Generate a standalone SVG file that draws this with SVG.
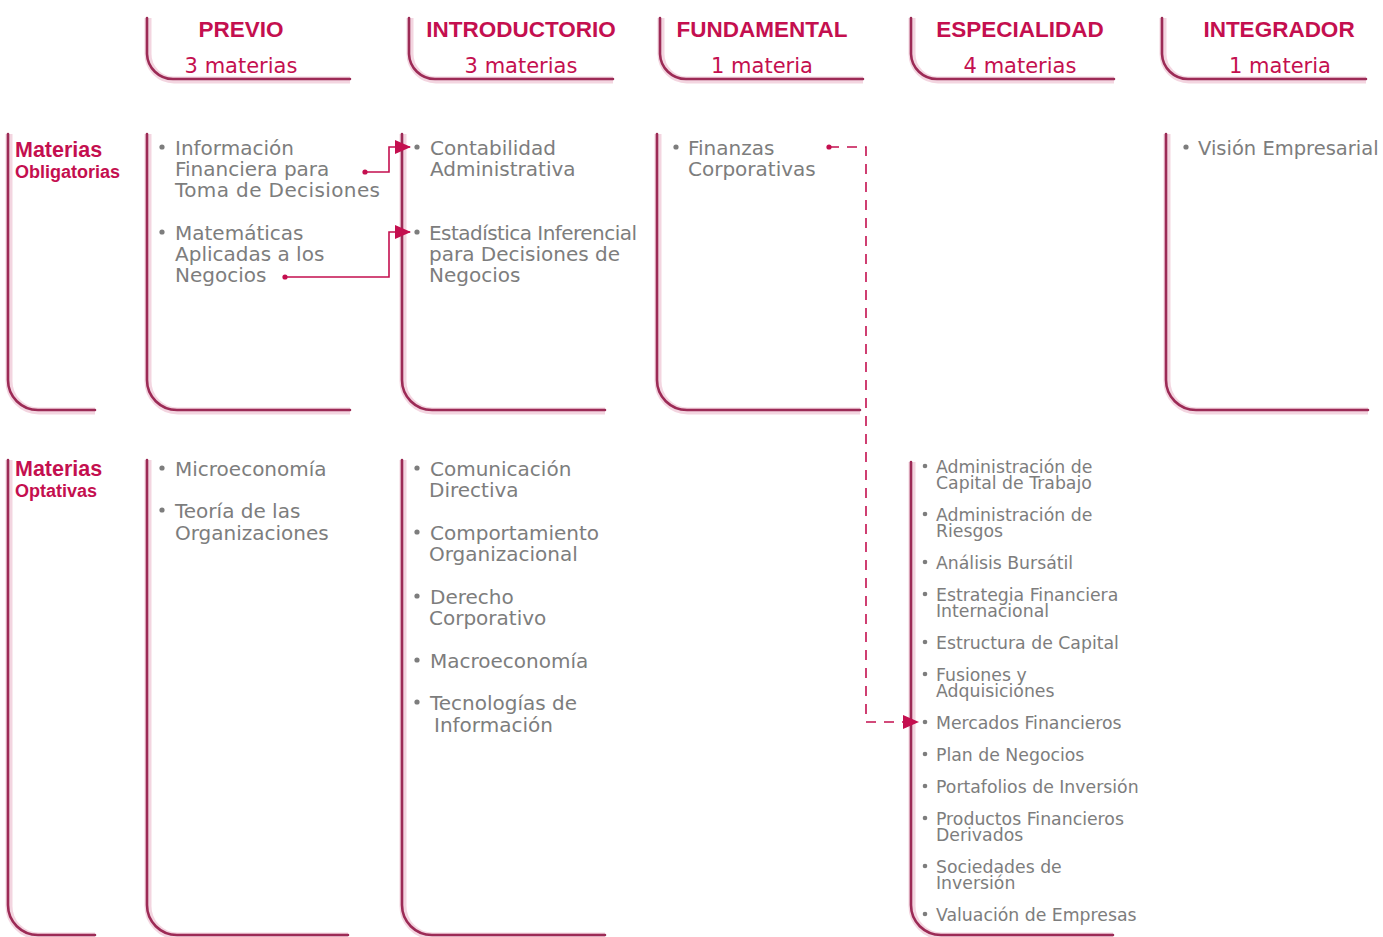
<svg xmlns="http://www.w3.org/2000/svg" width="1383" height="937" viewBox="0 0 1383 937">
<style>
.glow{fill:none;stroke:#eab3c6;stroke-width:7;opacity:.55}
.br{fill:none;stroke:#9c2b56;stroke-width:2.6;stroke-linecap:round}
.hd{font-family:"Liberation Sans",Arial,sans-serif;font-weight:bold;font-size:22.5px;fill:#c40f4f;text-anchor:middle}
.sub{font-family:"DejaVu Sans",sans-serif;font-size:21px;fill:#c40f4f;text-anchor:middle}
.lb1{font-family:"Liberation Sans",Arial,sans-serif;font-weight:bold;font-size:21.5px;fill:#c40f4f}
.lb2{font-family:"Liberation Sans",Arial,sans-serif;font-weight:bold;font-size:18px;fill:#c40f4f}
.it{font-family:"DejaVu Sans",sans-serif;font-size:20px;fill:#7d7d7d}
.sm{font-family:"DejaVu Sans",sans-serif;font-size:17.3px;fill:#7d7d7d}
.bul{fill:#7d7d7d}
.con{fill:none;stroke:#c40f4f;stroke-width:1.6}
.dash{stroke-dasharray:10 8}
.dot{fill:#c40f4f}
</style>
<defs>
<marker id="ah" markerWidth="16" markerHeight="14" refX="15" refY="7" orient="auto" markerUnits="userSpaceOnUse">
<path d="M0,0 L16,7 L0,14 Z" fill="#c40f4f"/>
</marker>
</defs>

<g id="headers">
<g id="h-previo">
<path class="glow" d="M148,18 V54 A26,26 0 0 0 174,80 H350"/>
<path class="br" d="M147,18 V54 A26,26 0 0 0 173,79 H350"/>
<text class="hd" x="241" y="37">PREVIO</text>
<text class="sub" x="241" y="73">3 materias</text>
</g>
<g id="h-introductorio">
<path class="glow" d="M410,18 V54 A26,26 0 0 0 436,80 H613"/>
<path class="br" d="M409,18 V54 A26,26 0 0 0 435,79 H613"/>
<text class="hd" x="521" y="37">INTRODUCTORIO</text>
<text class="sub" x="521" y="73">3 materias</text>
</g>
<g id="h-fundamental">
<path class="glow" d="M661,18 V54 A26,26 0 0 0 687,80 H863"/>
<path class="br" d="M660,18 V54 A26,26 0 0 0 686,79 H863"/>
<text class="hd" x="762" y="37">FUNDAMENTAL</text>
<text class="sub" x="762" y="73">1 materia</text>
</g>
<g id="h-especialidad">
<path class="glow" d="M912,18 V54 A26,26 0 0 0 938,80 H1114"/>
<path class="br" d="M911,18 V54 A26,26 0 0 0 937,79 H1114"/>
<text class="hd" x="1020" y="37">ESPECIALIDAD</text>
<text class="sub" x="1020" y="73">4 materias</text>
</g>
<g id="h-integrador">
<path class="glow" d="M1163,18 V54 A26,26 0 0 0 1189,80 H1366"/>
<path class="br" d="M1162,18 V54 A26,26 0 0 0 1188,79 H1366"/>
<text class="hd" x="1279" y="37">INTEGRADOR</text>
<text class="sub" x="1280" y="73">1 materia</text>
</g>
</g>

<g id="row-obligatorias">
<g id="lbl-obligatorias">
<path class="glow" d="M9,134 V380 A30,30 0 0 0 39,411 H95"/>
<path class="br" d="M8,134 V380 A30,30 0 0 0 38,410 H95"/>
<text class="lb1" x="15" y="157">Materias</text>
<text class="lb2" x="15" y="178">Obligatorias</text>
</g>
<g id="ob-previo">
<path class="glow" d="M148,134 V380 A30,30 0 0 0 178,411 H350"/>
<path class="br" d="M147,134 V380 A30,30 0 0 0 177,410 H350"/>
<circle class="bul" cx="162" cy="147" r="2.6"/>
<text class="it" x="175" y="155">Información</text>
<text class="it" x="175" y="176">Financiera para</text>
<text class="it" x="175" y="197" textLength="205">Toma de Decisiones</text>
<circle class="bul" cx="162" cy="232" r="2.6"/>
<text class="it" x="175" y="240">Matemáticas</text>
<text class="it" x="175" y="261">Aplicadas a los</text>
<text class="it" x="175" y="282">Negocios</text>
</g>
<g id="ob-introductorio">
<path class="glow" d="M403,134 V380 A30,30 0 0 0 433,411 H605"/>
<path class="br" d="M402,134 V380 A30,30 0 0 0 432,410 H605"/>
<circle class="bul" cx="417" cy="147" r="2.6"/>
<text class="it" x="430" y="155">Contabilidad</text>
<text class="it" x="430" y="176">Administrativa</text>
<circle class="bul" cx="417" cy="232" r="2.6"/>
<text class="it" x="429" y="240" textLength="208">Estadística Inferencial</text>
<text class="it" x="429" y="261">para Decisiones de</text>
<text class="it" x="429" y="282">Negocios</text>
</g>
<g id="ob-fundamental">
<path class="glow" d="M658,134 V380 A30,30 0 0 0 688,411 H860"/>
<path class="br" d="M657,134 V380 A30,30 0 0 0 687,410 H860"/>
<circle class="bul" cx="676" cy="147" r="2.6"/>
<text class="it" x="688" y="155">Finanzas</text>
<text class="it" x="688" y="176">Corporativas</text>
</g>
<g id="ob-integrador">
<path class="glow" d="M1167,134 V380 A30,30 0 0 0 1197,411 H1368"/>
<path class="br" d="M1166,134 V380 A30,30 0 0 0 1196,410 H1368"/>
<circle class="bul" cx="1186" cy="147" r="2.6"/>
<text class="it" x="1198" y="155" style="font-size:19.5px">Visión Empresarial</text>
</g>
</g>

<g id="row-optativas">
<g id="lbl-optativas">
<path class="glow" d="M9,460 V905 A30,30 0 0 0 39,936 H95"/>
<path class="br" d="M8,460 V905 A30,30 0 0 0 38,935 H95"/>
<text class="lb1" x="15" y="476">Materias</text>
<text class="lb2" x="15" y="497">Optativas</text>
</g>
<g id="op-previo">
<path class="glow" d="M148,460 V905 A30,30 0 0 0 178,936 H348"/>
<path class="br" d="M147,460 V905 A30,30 0 0 0 177,935 H348"/>
<circle class="bul" cx="162" cy="468" r="2.6"/>
<text class="it" x="175" y="476">Microeconomía</text>
<circle class="bul" cx="162" cy="510" r="2.6"/>
<text class="it" x="175" y="518">Teoría de las</text>
<text class="it" x="175" y="540">Organizaciones</text>
</g>
<g id="op-introductorio">
<path class="glow" d="M403,460 V905 A30,30 0 0 0 433,936 H605"/>
<path class="br" d="M402,460 V905 A30,30 0 0 0 432,935 H605"/>
<circle class="bul" cx="417" cy="468" r="2.6"/>
<text class="it" x="430" y="476">Comunicación</text>
<text class="it" x="429" y="497">Directiva</text>
<circle class="bul" cx="417" cy="532" r="2.6"/>
<text class="it" x="430" y="540">Comportamiento</text>
<text class="it" x="429" y="561">Organizacional</text>
<circle class="bul" cx="417" cy="596" r="2.6"/>
<text class="it" x="430" y="604">Derecho</text>
<text class="it" x="429" y="625">Corporativo</text>
<circle class="bul" cx="417" cy="660" r="2.6"/>
<text class="it" x="430" y="668">Macroeconomía</text>
<circle class="bul" cx="417" cy="702" r="2.6"/>
<text class="it" x="430" y="710">Tecnologías de</text>
<text class="it" x="434" y="732">Información</text>
</g>
<g id="op-especialidad">
<path class="glow" d="M912,462 V905 A30,30 0 0 0 942,936 H1113"/>
<path class="br" d="M911,462 V905 A30,30 0 0 0 941,935 H1113"/>
<circle class="bul" cx="925" cy="466" r="2.3"/>
<text class="sm" x="936" y="473">Administración de</text>
<text class="sm" x="936" y="489">Capital de Trabajo</text>
<circle class="bul" cx="925" cy="514" r="2.3"/>
<text class="sm" x="936" y="521">Administración de</text>
<text class="sm" x="936" y="537">Riesgos</text>
<circle class="bul" cx="925" cy="562" r="2.3"/>
<text class="sm" x="936" y="569">Análisis Bursátil</text>
<circle class="bul" cx="925" cy="594" r="2.3"/>
<text class="sm" x="936" y="601">Estrategia Financiera</text>
<text class="sm" x="936" y="617">Internacional</text>
<circle class="bul" cx="925" cy="642" r="2.3"/>
<text class="sm" x="936" y="649">Estructura de Capital</text>
<circle class="bul" cx="925" cy="674" r="2.3"/>
<text class="sm" x="936" y="681">Fusiones y</text>
<text class="sm" x="936" y="697">Adquisiciones</text>
<circle class="bul" cx="925" cy="722" r="2.3"/>
<text class="sm" x="936" y="729">Mercados Financieros</text>
<circle class="bul" cx="925" cy="754" r="2.3"/>
<text class="sm" x="936" y="761">Plan de Negocios</text>
<circle class="bul" cx="925" cy="786" r="2.3"/>
<text class="sm" x="936" y="793">Portafolios de Inversión</text>
<circle class="bul" cx="925" cy="818" r="2.3"/>
<text class="sm" x="936" y="825">Productos Financieros</text>
<text class="sm" x="936" y="841">Derivados</text>
<circle class="bul" cx="925" cy="866" r="2.3"/>
<text class="sm" x="936" y="873">Sociedades de</text>
<text class="sm" x="936" y="889">Inversión</text>
<circle class="bul" cx="925" cy="914" r="2.3"/>
<text class="sm" x="936" y="921">Valuación de Empresas</text>
</g>
</g>

<g id="connectors">
<circle class="dot" cx="365" cy="172" r="2.6"/>
<path class="con" d="M365,172 H389 V147 H410" marker-end="url(#ah)"/>
<circle class="dot" cx="285" cy="277" r="2.6"/>
<path class="con" d="M285,277 H389 V232 H410" marker-end="url(#ah)"/>
<circle class="dot" cx="829" cy="147" r="2.6"/>
<path class="con dash" d="M829,147 H866 V722 H918" marker-end="url(#ah)"/>
</g>
</svg>
